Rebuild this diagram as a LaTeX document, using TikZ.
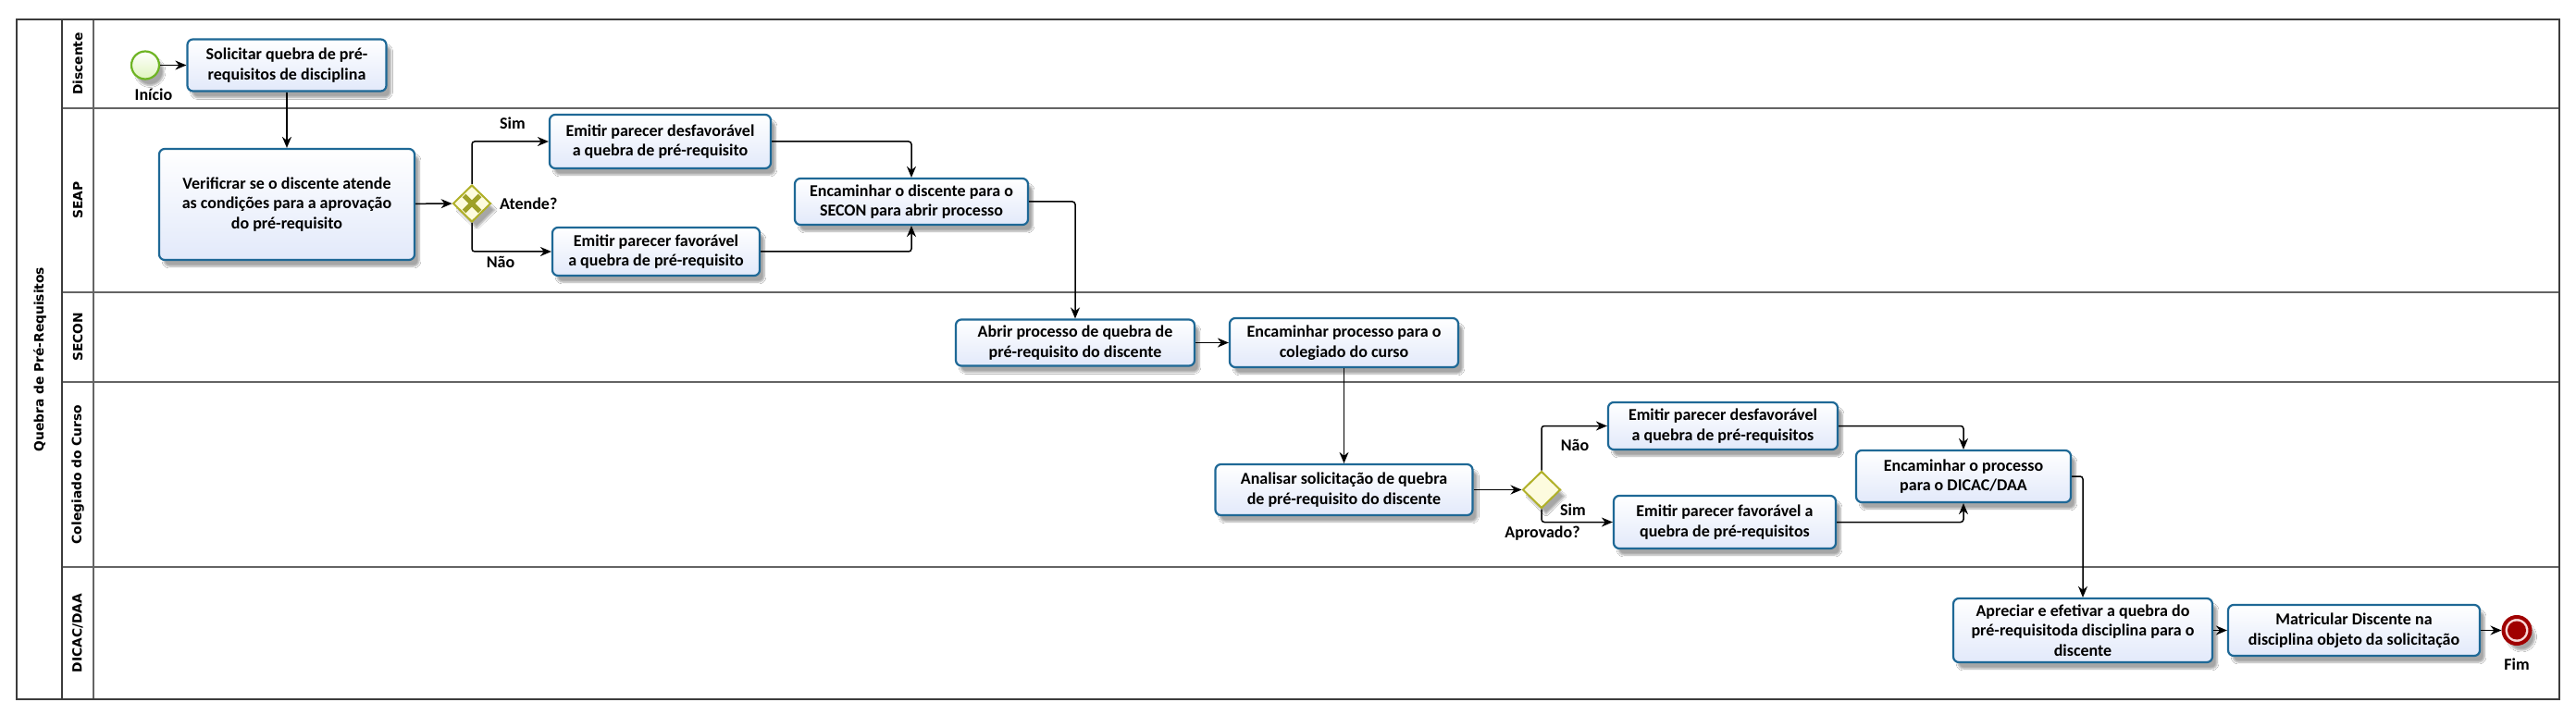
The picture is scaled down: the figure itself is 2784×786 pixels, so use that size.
\documentclass[tikz,border=0pt]{standalone}
\usepackage{fontspec}
\setmainfont{Carlito}
\newfontfamily\lanefont{DejaVu Sans}
\usetikzlibrary{arrows.meta,shapes.geometric,shadows.blur,calc}
\definecolor{taskborder}{RGB}{30,104,150}
\definecolor{taskfill}{RGB}{226,233,250}
\definecolor{lanegray}{RGB}{100,100,100}
\definecolor{pooldark}{RGB}{60,60,60}
\definecolor{gwborder}{RGB}{176,176,40}
\definecolor{gwfill}{RGB}{253,251,222}
\definecolor{gwmark}{RGB}{158,160,40}
\definecolor{startborder}{RGB}{110,180,35}
\definecolor{startfill}{RGB}{225,245,190}
\definecolor{endred}{RGB}{160,0,0}
\definecolor{endpink}{RGB}{248,215,215}
\begin{document}
\begin{tikzpicture}[x=1pt,y=-1pt,
  shadowed/.style={blur shadow={shadow xshift=5pt, shadow yshift=-7pt, shadow blur steps=6, shadow opacity=35}},
  task/.style={rectangle, rounded corners=6pt, draw=taskborder, line width=2.2pt,
    top color=white, bottom color=taskfill, align=center,
    font=\fontsize{18}{21.5}\selectfont\bfseries, inner sep=0pt, shadowed},
  gateway/.style={diamond, draw=gwborder, line width=2pt, fill=gwfill,
    minimum width=41pt, minimum height=40pt, inner sep=0pt, shadowed},
  flow/.style={draw=black, line width=1.5pt, rounded corners=3pt,
    -{Stealth[length=12pt,width=10pt]}},
  lbl/.style={font=\fontsize{18}{21.5}\selectfont\bfseries, inner sep=0pt},
  lanelabel/.style={font=\lanefont\bfseries\fontsize{13.8}{16}\selectfont, inner sep=0pt, rotate=90},
  poolline/.style={draw=pooldark, line width=2pt},
  laneline/.style={draw=lanegray, line width=2pt}
]
\useasboundingbox (0,0) rectangle (2784,786);
\fill[white] (0,0) rectangle (2784,786);

% pool and lanes
\draw[laneline] (67,117) -- (2766,117);
\draw[laneline] (67,316) -- (2766,316);
\draw[laneline] (67,413) -- (2766,413);
\draw[laneline] (67,613) -- (2766,613);
\draw[laneline] (101,21) -- (101,756);
\draw[poolline] (67,21) -- (67,756);
\draw[poolline] (18,21) rectangle (2766,756);

\node[lanelabel] (pool) at (43,388.5) {Quebra de Pré-Requisitos};
\node[lanelabel] (lane1) at (84,69) {Discente};
\node[lanelabel] (lane2) at (84,216.5) {SEAP};
\node[lanelabel] (lane3) at (84,364.5) {SECON};
\node[lanelabel] (lane4) at (84,513) {Colegiado do Curso};
\node[lanelabel] (lane5) at (84,684.5) {DICAC/DAA};

% events
\node[circle, draw=startborder, line width=2.2pt, top color=white, bottom color=startfill, minimum size=30pt, inner sep=0pt, shadowed] (start) at (157,70.5) {};
\node[lbl] (lstart) at (166,102) {Início};
\node[circle, draw=endred, line width=4pt, fill=endpink, minimum size=29pt, inner sep=0pt, shadowed] (end) at (2720,681.5) {};
\fill[endred] (end.center) circle (10pt);
\node[lbl] (lend) at (2720,718) {Fim};

% tasks
\node[task, minimum width=215pt, minimum height=56pt] (t1) at (310,70.5) {Solicitar quebra de pré-\\requisitos de disciplina};
\node[task, minimum width=276pt, minimum height=120pt] (t2) at (310,221) {Verificrar se o discente atende\\as condições para a aprovação\\do pré-requisito};
\node[task, minimum width=239pt, minimum height=58pt] (d1) at (713.5,153) {Emitir parecer desfavorável\\a quebra de pré-requisito};
\node[task, minimum width=224pt, minimum height=52pt] (f1) at (709,272) {Emitir parecer favorável\\a quebra de pré-requisito};
\node[task, minimum width=252pt, minimum height=50pt] (e1) at (985,218) {Encaminhar o discente para o\\SECON para abrir processo};
\node[task, minimum width=258pt, minimum height=50pt] (ab) at (1162,370.5) {Abrir processo de quebra de\\pré-requisito do discente};
\node[task, minimum width=247pt, minimum height=53pt] (ep) at (1452.5,370.5) {Encaminhar processo para o\\colegiado do curso};
\node[task, minimum width=278pt, minimum height=55pt] (an) at (1452.5,529.5) {Analisar solicitação de quebra\\de pré-requisito do discente};
\node[task, minimum width=248pt, minimum height=51pt] (d2) at (1862,460.5) {Emitir parecer desfavorável\\a quebra de pré-requisitos};
\node[task, minimum width=240pt, minimum height=57pt] (f2) at (1864,564.5) {Emitir parecer favorável a\\quebra de pré-requisitos};
\node[task, minimum width=232pt, minimum height=56pt] (e2) at (2122,515) {Encaminhar o processo\\para o DICAC/DAA};
\node[task, minimum width=280pt, minimum height=69pt] (ap) at (2251,681.5) {Apreciar e efetivar a quebra do\\pré-requisitoda disciplina para o\\discente};
\node[task, minimum width=272pt, minimum height=55pt] (ma) at (2544,681.5) {Matricular Discente na\\disciplina objeto da solicitação};

% gateways
\node[gateway] (g1) at (510,220) {};
\draw[gwmark, line width=5pt] ($(g1.center)+(-8.5,-8.5)$) -- ($(g1.center)+(8.5,8.5)$);
\draw[gwmark, line width=5pt] ($(g1.center)+(-8.5,8.5)$) -- ($(g1.center)+(8.5,-8.5)$);
\node[gateway] (g2) at (1666,529.5) {};

% gateway labels
\node[lbl, anchor=west] (latende) at (540,220) {Atende?};
\node[lbl] (lsim1) at (554,133) {Sim};
\node[lbl] (lnao1) at (541,283) {Não};
\node[lbl] (lnao2) at (1702,481) {Não};
\node[lbl] (lsim2) at (1700,551) {Sim};
\node[lbl] (laprov) at (1667,577) {Aprovado?};

% flows
\draw[flow] (start) -- (t1);
\draw[flow] (t1) -- (t2);
\draw[flow] (t2) -- (g1);
\draw[flow] (g1.north) |- (d1.west);
\draw[flow] (g1.south) |- (f1.west);
\draw[flow] (d1.east) -| (e1.north);
\draw[flow] (f1.east) -| (e1.south);
\draw[flow] (e1.east) -| (ab.north);
\draw[flow] (ab) -- (ep);
\draw[flow] (ep) -- (an);
\draw[flow] (an) -- (g2);
\draw[flow] (g2.north) |- (d2.west);
\draw[flow] (g2.south) |- (f2.west);
\draw[flow] (d2.east) -| (e2.north);
\draw[flow] (f2.east) -| (e2.south);
\draw[flow] (e2.east) -| (ap.north);
\draw[flow] (ap) -- (ma);
\draw[flow] (ma) -- (end);
\end{tikzpicture}
\end{document}
